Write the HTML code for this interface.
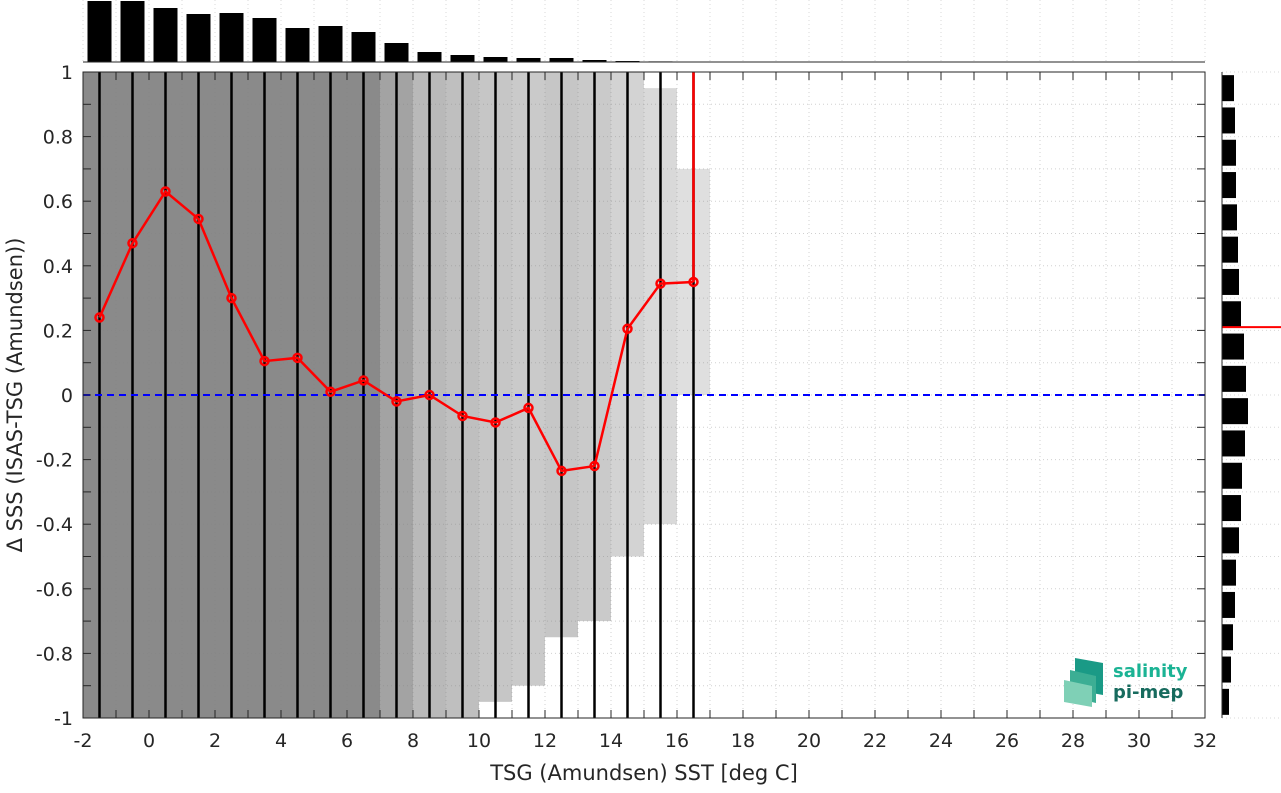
<!DOCTYPE html>
<html><head><meta charset="utf-8"><style>
body{margin:0;background:#fff;font-family:"Liberation Sans","DejaVu Sans",sans-serif}
svg text{font-family:"DejaVu Sans","Liberation Sans",sans-serif;fill:#262626}
</style></head><body>
<svg id="c" width="1281" height="788" xmlns="http://www.w3.org/2000/svg">
<g id="grid"></g>
<g id="scatter"></g>
<g id="marks"></g>
<g id="axes"></g>
</svg>
<script>
const binCenters=[-1.5,-0.5,0.5,1.5,2.5,3.5,4.5,5.5,6.5,7.5,8.5,9.5,10.5,11.5,12.5,13.5,14.5,15.5,16.5];
const meanDiff=[0.24,0.47,0.63,0.545,0.30,0.105,0.115,0.01,0.045,-0.02,0.0,-0.065,-0.085,-0.04,-0.235,-0.22,0.205,0.345,0.35];
const topHist=[61,61,54,48,49,44,34,36,30,19,10,7,5,4,4,2,1,0.6,0.3];
const yBins=[0.95,0.85,0.75,0.65,0.55,0.45,0.35,0.25,0.15,0.05,-0.05,-0.15,-0.25,-0.35,-0.45,-0.55,-0.65,-0.75,-0.85,-0.95];
const rightHist=[12,13,14,14,15,16,17,19,22,24,26,23,20,19,17,14,13,11,9,7];
const scatterX0=[-2,7,8,9,10,11,12,13,14,15,16];
const scatterX1=[7,8,9,10,11,12,13,14,15,16,17];
const scatterDensity=[0.92,0.72,0.55,0.5,0.45,0.42,0.45,0.42,0.35,0.3,0.25];
const scatterTop=[1,1,1,1,1,1,1,1,1,0.95,0.7];
const scatterBot=[-1,-1,-1,-1,-0.95,-0.9,-0.75,-0.7,-0.5,-0.4,0.0];
const xTicks=[-2,0,2,4,6,8,10,12,14,16,18,20,22,24,26,28,30,32];
const yTicks=[1,0.8,0.6,0.4,0.2,0,-0.2,-0.4,-0.6,-0.8,-1];
const meanBias=0.21;

const L=83,R=1205,T=72,B=718;
const X=v=>L+(v+2)/34*(R-L);
const Y=v=>B-(v+1)/2*(B-T);
const NS="http://www.w3.org/2000/svg";
function mk(p,t,a){const e=document.createElementNS(NS,t);for(const k in a)e.setAttribute(k,a[k]);p.appendChild(e);return e;}
const grid=document.getElementById('grid'),sc=document.getElementById('scatter'),mg=document.getElementById('marks'),ax=document.getElementById('axes');
for(let v=-2;v<=32;v+=1){let g=mk(grid,'line',{x1:X(v),x2:X(v),y1:T,y2:B,stroke:'#d0d0d0','stroke-dasharray':'1 3'});
 let g2=mk(grid,'line',{x1:X(v),x2:X(v),y1:0,y2:62,stroke:'#d8d8d8','stroke-dasharray':'1 3'});}
for(let v=-1;v<=1.001;v+=0.1){let g=mk(grid,'line',{x1:L,x2:R,y1:Y(v),y2:Y(v),stroke:'#d0d0d0','stroke-dasharray':'1 3'});
 let g2=mk(grid,'line',{x1:1222,x2:1281,y1:Y(v),y2:Y(v),stroke:'#d8d8d8','stroke-dasharray':'1 3'});}
scatterX0.forEach((x0,i)=>{const r=mk(sc,'rect',{x:X(x0),y:Y(scatterTop[i]),width:X(scatterX1[i])-X(x0),height:Y(scatterBot[i])-Y(scatterTop[i]),fill:'#808080',opacity:scatterDensity[i]});
 });
binCenters.forEach(c=>{const l=mk(mg,'line',{x1:X(c),x2:X(c),y1:T,y2:B,stroke:'#000','stroke-width':2.5});});
const z=mk(mg,'line',{x1:L,x2:R,y1:Y(0),y2:Y(0),stroke:'#0000ff','stroke-width':2,'stroke-dasharray':'7 5'});
const pts=binCenters.map((c,i)=>X(c)+','+Y(meanDiff[i])).join(' ');
const pl=mk(mg,'polyline',{points:pts,fill:'none',stroke:'#f00','stroke-width':2.5});
const last=binCenters.length-1;
const vl=mk(mg,'line',{x1:X(binCenters[last]),x2:X(binCenters[last]),y1:Y(meanDiff[last]),y2:T,stroke:'#f00','stroke-width':2.5});
binCenters.forEach((c,i)=>{const m=mk(mg,'circle',{cx:X(c),cy:Y(meanDiff[i]),r:4,fill:'none',stroke:'#f00','stroke-width':2.5});});
binCenters.forEach((c,i)=>{const b=mk(mg,'rect',{x:X(c)-12,y:62-topHist[i],width:24,height:topHist[i],fill:'#000'});});
yBins.forEach((v,i)=>{const h=26;const b=mk(mg,'rect',{x:1222,y:Y(v)-h/2,width:rightHist[i],height:h,fill:'#000'});});
const rb=mk(mg,'line',{x1:1222,x2:1281,y1:Y(meanBias),y2:Y(meanBias),stroke:'#f00','stroke-width':2});
const bx=mk(ax,'rect',{x:L,y:T,width:R-L,height:B-T,fill:'none',stroke:'#262626','stroke-width':1});
mk(ax,'line',{x1:L,x2:R,y1:62,y2:62,stroke:'#262626'});
mk(ax,'line',{x1:1222,x2:1222,y1:T,y2:B,stroke:'#262626'});
for(let v=-2;v<=32;v+=1){mk(ax,'line',{x1:X(v),x2:X(v),y1:B,y2:B-8,stroke:'#262626'});mk(ax,'line',{x1:X(v),x2:X(v),y1:T,y2:T+8,stroke:'#262626'});}
for(let v=-1;v<=1.001;v+=0.1){mk(ax,'line',{x1:L,x2:L+8,y1:Y(v),y2:Y(v),stroke:'#262626'});mk(ax,'line',{x1:R,x2:R-8,y1:Y(v),y2:Y(v),stroke:'#262626'});}
xTicks.forEach(v=>{const t=mk(ax,'text',{x:X(v),y:747,'text-anchor':'middle','font-size':19});t.textContent=v;});
yTicks.forEach(v=>{const t=mk(ax,'text',{x:73,y:Y(v)+7,'text-anchor':'end','font-size':19});t.textContent=v;});
</script>
<svg style="position:absolute;left:0;top:0" width="1281" height="788" xmlns="http://www.w3.org/2000/svg">
<text x="644" y="780" text-anchor="middle" font-size="21" font-family="DejaVu Sans" fill="#262626">TSG (Amundsen) SST [deg C]</text>
<text transform="translate(22,395) rotate(-90)" text-anchor="middle" font-size="21" font-family="DejaVu Sans" fill="#262626">Δ SSS (ISAS-TSG (Amundsen))</text>
<g>
<polygon points="1075,658 1103,663 1103,695 1075,690" fill="#1a9a86"/>
<polygon points="1070,670 1096,676 1096,703 1070,697" fill="#3cae94"/>
<polygon points="1064,680 1092,686 1092,707 1064,702" fill="#7fd0b6"/>
<text x="1113" y="677" font-size="18" font-weight="bold" font-family="DejaVu Sans" fill="#1bb394" style="fill:#1bb394">salinity</text>
<text x="1113" y="698" font-size="18" font-weight="bold" font-family="DejaVu Sans" fill="#176b5e" style="fill:#176b5e">pi-mep</text>
</g>
</svg>
</body></html>
